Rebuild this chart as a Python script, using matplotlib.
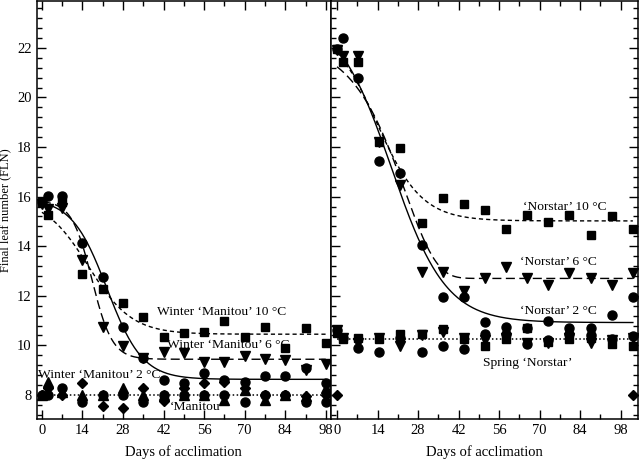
import numpy as np
import matplotlib
matplotlib.use('Agg')
import matplotlib.pyplot as plt
from matplotlib.ticker import FixedLocator, MultipleLocator

plt.rcParams['font.family'] = ['Liberation Serif', 'DejaVu Serif']

# ---------------- data ----------------
days = [0, 2, 7, 14, 21, 28, 35, 42, 49, 56, 63, 70, 77, 84, 91, 98]

# Manitou (left panel)
manitou_w10 = [15.78, 15.26, 15.80, 12.88, 12.26, 11.72, 11.16, 10.35, 10.49, 10.52, 10.98, 10.35, 10.75, 9.91, 10.71, 10.11]
manitou_w6 = [15.70, 15.50, 15.55, 13.44, 10.75, 9.96, 9.50, 9.75, 9.70, 9.34, 9.34, 9.58, 9.46, 9.42, 9.00, 9.23]
manitou_w2 = [15.80, 16.02, 16.02, 14.14, 12.75, 10.76, 9.48, 8.60, 8.50, 8.87, 8.60, 8.51, 8.78, 8.75, 9.08, 8.50]
manitou_sp_diamond = [8.00, 8.27, 8.00, 8.50, 7.56, 7.46, 8.27, 7.75, 8.27, 8.50, 8.54, 8.27, 8.00, 8.00, 7.95, 8.00]
manitou_sp_triangle = [8.00, 8.54, 8.10, 8.00, 8.00, 8.27, 8.00, 8.00, 8.00, 8.00, 7.80, 8.20, 7.80, 8.00, 7.95, 8.27]
manitou_sp_circle = [8.00, 8.00, 8.30, 7.73, 8.00, 8.00, 7.73, 8.00, 8.00, 8.00, 8.00, 7.73, 8.00, 8.00, 7.73, 7.73]

# Norstar (right panel)
norstar_w10 = [21.95, 21.44, 21.44, 18.21, 17.95, 14.95, 15.96, 15.71, 15.47, 14.71, 15.24, 14.97, 15.27, 14.46, 15.20, 14.71]
norstar_w6 = [21.90, 21.67, 21.67, 18.20, 16.45, 12.97, 12.95, 12.20, 12.70, 13.17, 12.70, 12.43, 12.93, 12.70, 12.43, 12.90]
norstar_w2 = [21.95, 22.38, 20.80, 17.45, 16.97, 14.05, 11.96, 11.96, 10.96, 10.73, 10.69, 10.99, 10.69, 10.69, 11.23, 11.96]
norstar_sp_square = [10.50, 10.26, 10.30, 10.26, 10.46, 10.46, 10.64, 10.26, 9.97, 10.26, 10.69, 10.15, 10.26, 10.30, 10.07, 9.97]
norstar_sp_triangle = [10.60, 10.30, 10.10, 10.30, 9.97, 10.40, 10.55, 10.30, 10.20, 10.30, 10.10, 10.10, 10.30, 10.10, 10.20, 10.30]
norstar_sp_circle = [10.62, 10.30, 9.88, 9.72, 10.30, 9.72, 9.97, 9.86, 10.46, 10.46, 10.04, 10.20, 10.46, 10.40, 10.26, 10.37]
norstar_sp_diamond_days = [0, 98]
norstar_sp_diamond = [8.0, 8.0]

# fitted curve parameters: (lower asymptote, drop, midpoint, scale)
fit_manitou_w10 = (10.45, 5.5, 16.0, 7.5)
fit_manitou_w6 = (9.44, 6.4, 17.3, 3.5)
fit_manitou_w2 = (8.63, 7.3, 22.5, 6.1)
fit_manitou_sp = 8.0
fit_norstar_w10 = (15.02, 8.0, 13.0, 7.5)
fit_norstar_w6 = (12.70, 9.6, 22.5, 10.5)   # Gompertz form
fit_norstar_w2 = (10.92, 12.5, 18.0, 9.0)
fit_norstar_sp = 10.26

x_ticks = [0, 14, 28, 42, 56, 70, 84, 98]
x_minor = [7, 21, 35, 49, 63, 77, 91]
right_tick_scale = 0.9586

annots_left = [("Winter \u2018Manitou\u2019 10 \u00b0C", 39.7, 11.35),
               ("Winter \u2018Manitou\u2019 6 \u00b0C", 43.2, 10.02),
               ("Winter \u2018Manitou\u2019 2 \u00b0C", -1.4, 8.81),
               ("\u2018Manitou\u2019", 44.2, 7.52)]
annots_right = [("\u2018Norstar\u2019 10 \u00b0C", 61.6, 15.58),
                ("\u2018Norstar\u2019 6 \u00b0C", 60.6, 13.36),
                ("\u2018Norstar\u2019 2 \u00b0C", 60.6, 11.39),
                ("Spring \u2018Norstar\u2019", 48.3, 9.29)]


def logistic(x, p):
    a, b, x0, c = p
    return a + b / (1.0 + np.exp((x - x0) / c))


def gompertz(x, p):
    a, b, x0, c = p
    return a + b * np.exp(-np.exp((x - x0) / c))


# ---------------- figure ----------------
W, H = 640, 459
fig = plt.figure(figsize=(W / 100, H / 100), dpi=100)
axL = fig.add_axes([36.7 / W, 40 / H, 294.3 / W, 418 / H])
axR = fig.add_axes([331 / W, 40 / H, 307 / W, 418 / H])

xf = np.linspace(0, 98, 400)
lw = 1.0
ms_kw = dict(color='black', linestyle='none', zorder=3)
short_dash = (0, (3.0, 2.2))
long_dash = (0, (6.5, 3.2))
dotted = (0, (1.0, 1.6))

# left panel
axL.plot(xf, logistic(xf, fit_manitou_w10), color='black', lw=lw, ls=short_dash, zorder=2)
axL.plot(xf, logistic(xf, fit_manitou_w6), color='black', lw=lw, ls=long_dash, zorder=2)
axL.plot(xf, logistic(xf, fit_manitou_w2), color='black', lw=lw, ls='-', zorder=2)
axL.plot([0, 98], [fit_manitou_sp, fit_manitou_sp], color='black', lw=1.1, ls=dotted, zorder=2)
axL.plot(days, manitou_sp_triangle, marker='^', ms=6.5, **ms_kw)
axL.plot(days, manitou_sp_circle, marker='o', ms=6.5, **ms_kw)
axL.plot(days, manitou_sp_diamond, marker='D', ms=5.5, **ms_kw)
axL.plot(days, manitou_w10, marker='s', ms=6.3, **ms_kw)
axL.plot(days, manitou_w6, marker='v', ms=7, **ms_kw)
axL.plot(days, manitou_w2, marker='o', ms=6.5, **ms_kw)

# right panel
axR.plot(xf, logistic(xf, fit_norstar_w10), color='black', lw=lw, ls=short_dash, zorder=2)
axR.plot(xf, gompertz(xf, fit_norstar_w6), color='black', lw=lw, ls=long_dash, zorder=2)
axR.plot(xf, logistic(xf, fit_norstar_w2), color='black', lw=lw, ls='-', zorder=2)
axR.plot([0, 98], [fit_norstar_sp, fit_norstar_sp], color='black', lw=1.1, ls=dotted, zorder=2)
axR.plot(days, norstar_sp_square, marker='s', ms=6.3, **ms_kw)
axR.plot(days, norstar_sp_triangle, marker='v', ms=7, **ms_kw)
axR.plot(days, norstar_sp_circle, marker='o', ms=6.5, **ms_kw)
axR.plot(norstar_sp_diamond_days, norstar_sp_diamond, marker='D', ms=5.5, **ms_kw)
axR.plot(days, norstar_w10, marker='s', ms=6.3, **ms_kw)
axR.plot(days, norstar_w6, marker='v', ms=7, **ms_kw)
axR.plot(days, norstar_w2, marker='o', ms=6.5, **ms_kw)

for txt, x, y in annots_left:
    axL.text(x, y, txt, fontsize=9.7, ha='left', va='center', zorder=1)
for txt, x, y in annots_right:
    axR.text(x, y, txt, fontsize=9.7, ha='left', va='center', zorder=1)

ylim = (7.03, 23.89)
axL.set_xlim(-1.8, 99.8)
axR.set_xlim(-2.0, 99.7)
for ax in (axL, axR):
    ax.set_ylim(*ylim)
    ax.yaxis.set_major_locator(FixedLocator([8, 10, 12, 14, 16, 18, 20, 22]))
    ax.yaxis.set_minor_locator(MultipleLocator(0.4))
    for s in ax.spines.values():
        s.set_linewidth(1.1)
    ax.tick_params(which='major', direction='in', length=6.5, width=1.0, labelsize=10.5, top=True)
    ax.tick_params(which='minor', direction='in', length=3.6, width=1.0, top=True)
    ax.set_xlabel('Days of acclimation', fontsize=10.5, labelpad=6)

axL.xaxis.set_major_locator(FixedLocator(x_ticks))
axL.xaxis.set_minor_locator(FixedLocator(x_minor))
axL.set_xticklabels([str(t) for t in x_ticks])
axL.tick_params(axis='y', which='both', right=False)
axL.set_ylabel('Final leaf number (FLN)', fontsize=9, labelpad=4)

axR.xaxis.set_major_locator(FixedLocator([t * right_tick_scale for t in x_ticks]))
axR.xaxis.set_minor_locator(FixedLocator([t * right_tick_scale for t in x_minor]))
axR.set_xticklabels([str(t) for t in x_ticks])
axR.tick_params(axis='y', which='both', left=True, right=True, labelleft=False)

fig.savefig('out.png', dpi=100)
